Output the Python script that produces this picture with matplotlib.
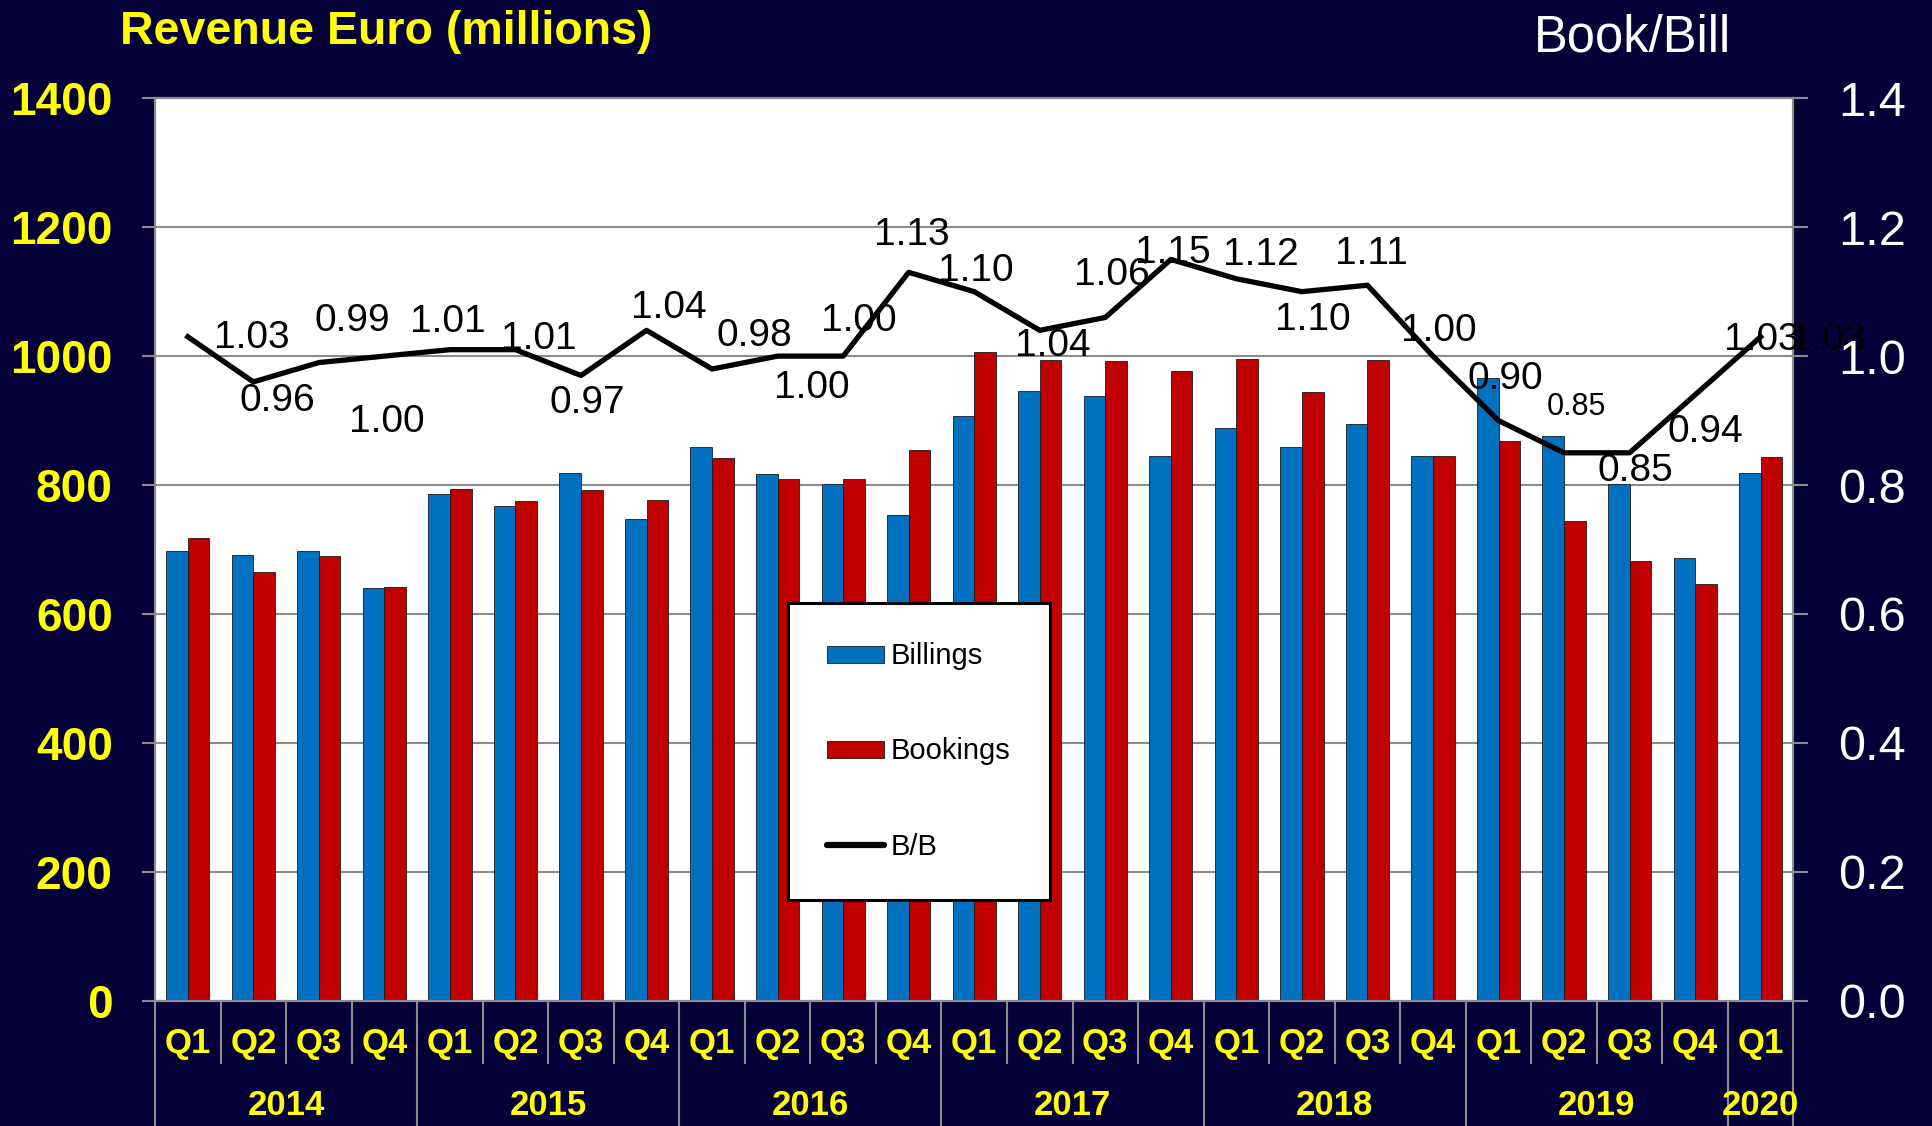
import matplotlib.pyplot as plt
from matplotlib.patches import Patch
from matplotlib.lines import Line2D

plt.rcParams["font.family"] = ["Liberation Sans", "DejaVu Sans"]

# data
years = ["2014", "2015", "2016", "2017", "2018", "2019", "2020"]
quarters = ["Q1", "Q2", "Q3", "Q4"] * 6 + ["Q1"]
billings = [697, 692, 697, 641, 786, 767, 818, 748, 859, 817, 802, 754,
            907, 946, 938, 845, 889, 859, 895, 845, 966, 876, 802, 687, 818]
bookings = [718, 665, 690, 642, 794, 775, 793, 777, 842, 809, 809, 854,
            1007, 994, 993, 977, 996, 945, 994, 845, 868, 744, 682, 646, 843]
book_bill = [1.03, 0.96, 0.99, 1.00, 1.01, 1.01, 0.97, 1.04, 0.98, 1.00,
             1.00, 1.13, 1.10, 1.04, 1.06, 1.15, 1.12, 1.10, 1.11, 1.00,
             0.90, 0.85, 0.85, 0.94, 1.03]

# where each B/B label sits relative to its point (pixels, right / up)
label_offsets = [(64, -1), (24, -19), (33, 42), (2, -66), (-2, 28), (23, 11),
                 (6, -28), (22, 22), (42, 33), (34, -32), (16, 35), (3, 37),
                 (2, 21), (13, -16), (7, 42), (2, 6), (24, 24), (11, -28),
                 (4, 31), (6, 25), (7, 42), (12, 46), (6, -18), (10, -37),
                 (1, -3)]
label_sizes = [28] * 21 + [22] + [28] * 3

navy = "#050038"
blue = "#0070C0"
red = "#C00000"
yellow = "#FFFF00"
grey = "#8C8C8C"

fig = plt.figure(figsize=(19.33, 11.26), dpi=100, facecolor=navy)
ax = fig.add_axes([0.0802, 0.1113, 0.8476, 0.8014])
ax.set_facecolor("white")

n = len(billings)
x = list(range(n))
w = 0.33
ax.bar([i - w / 2 for i in x], billings, width=w, color=blue,
       edgecolor="#1a1a1a", linewidth=0.6, label="Billings", zorder=2)
ax.bar([i + w / 2 for i in x], bookings, width=w, color=red,
       edgecolor="#1a1a1a", linewidth=0.6, label="Bookings", zorder=2)

ax.set_xlim(-0.5, n - 0.5)
ax.set_ylim(0, 1400)
ax.set_yticks(range(0, 1401, 200))
ax.yaxis.grid(True, color=grey, linewidth=1.5)
ax.set_axisbelow(True)
ax.set_xticks([])
ax.tick_params(axis="y", direction="out", length=9.5, width=1.5, color=grey,
               labelsize=33, labelcolor=yellow, pad=21)
for lab in ax.get_yticklabels():
    lab.set_fontweight("bold")
for s in ax.spines.values():
    s.set_color(grey)
    s.set_linewidth(1.5)

ax2 = ax.twinx()
ax2.set_ylim(0, 1.4)
ax2.set_yticks([0.0, 0.2, 0.4, 0.6, 0.8, 1.0, 1.2, 1.4])
ax2.set_yticklabels([f"{v:.1f}" for v in ax2.get_yticks()])
ax2.tick_params(axis="y", direction="out", length=11, width=1.5, color=grey,
                labelsize=35, labelcolor="white", pad=21)
for s in ax2.spines.values():
    s.set_color(grey)
    s.set_linewidth(1.5)
ax2.plot(x, book_bill, color="black", linewidth=3.8, zorder=3)

for i, v in enumerate(book_bill):
    ax2.annotate(f"{v:.2f}", (x[i], v), xytext=label_offsets[i],
                 textcoords="offset pixels", ha="center", va="center",
                 fontsize=label_sizes[i], color="black", zorder=4)
# stray duplicate label at the right edge of the slide
ax2.annotate(f"{book_bill[-1]:.2f}", (x[-1], book_bill[-1]), xytext=(67, -3),
             textcoords="offset pixels", ha="center", va="center",
             fontsize=28, color="black", zorder=1)

# category axis: quarters and years
xt = ax.get_xaxis_transform()
for b in range(n + 1):
    edge = b - 0.5
    is_year = b % 4 == 0 or b == n
    ax.plot([edge, edge], [0, -0.139 if is_year else -0.069], color=grey,
            linewidth=1.5, transform=xt, clip_on=False)
for i, q in enumerate(quarters):
    ax.text(x[i], -0.0477, q, transform=xt, ha="center", va="center",
            fontsize=25, fontweight="bold", color=yellow)
for k, yr in enumerate(years):
    grp = x[4 * k:4 * k + 4]
    ax.text(sum(grp) / len(grp), -0.1164, yr, transform=xt, ha="center",
            va="center", fontsize=25, fontweight="bold", color=yellow)

handles = [Patch(facecolor=blue, edgecolor="#1a1a1a", linewidth=0.6),
           Patch(facecolor=red, edgecolor="#1a1a1a", linewidth=0.6),
           Line2D([0], [0], color="black", linewidth=4.5,
                  solid_capstyle="round")]
leg = ax2.legend(handles, ["Billings", "Bookings", "B/B"], loc="upper left",
                 bbox_to_anchor=(788 / 1933, 1 - 603 / 1126),
                 bbox_transform=fig.transFigure, fontsize=21, frameon=True,
                 fancybox=False, framealpha=1, edgecolor="black",
                 borderpad=1.35, labelspacing=2.3, handlelength=1.95,
                 handleheight=0.52, handletextpad=0.22, borderaxespad=0)
leg.get_frame().set_linewidth(2.2)
leg.set_zorder(10)

fig.text(120 / 1933, 1 - 44 / 1126, "Revenue Euro (millions)", ha="left",
         va="baseline", fontsize=33.5, fontweight="bold", color=yellow)
fig.text(1534 / 1933, 1 - 52 / 1126, "Book/Bill", ha="left",
         va="baseline", fontsize=36.5, color="white")

fig.savefig("out.png", dpi=100, facecolor=navy)
